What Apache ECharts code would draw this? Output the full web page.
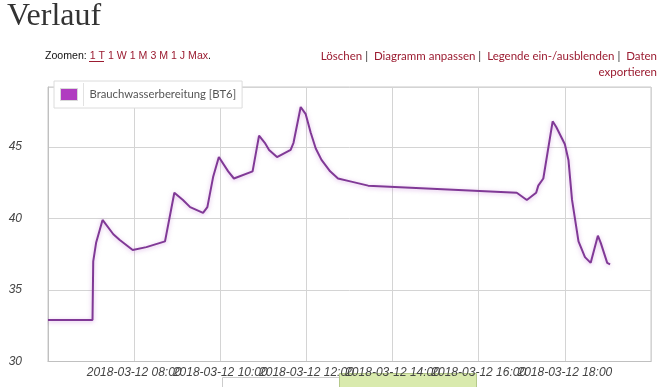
<!DOCTYPE html>
<html><head><meta charset="utf-8">
<script src="https://cdn.jsdelivr.net/npm/echarts@6/dist/echarts.min.js"></script>
<style>html,body{margin:0;padding:0;background:#fff}#c{width:664px;height:387px}</style>
</head><body><div id="c"></div>
<script>
const seriesName = 'Brauchwasserbereitung [BT6]';
const day = [2018, 2, 12];
const times = ['06:00','07:02','07:03','07:07','07:16','07:31','07:40','07:58','08:17','08:43','08:56','09:08','09:18','09:36','09:42','09:50','09:58','10:11','10:19','10:45','10:54','11:02','11:08','11:19','11:38','11:42','11:52','11:59','12:06','12:13','12:21','12:33','12:44','13:01','13:26','16:53','17:07','17:20','17:23','17:30','17:43','17:48','17:56','18:00','18:05','18:10','18:19','18:28','18:36','18:46','18:50','18:59','19:03'];
const values = [32.9,32.9,37.0,38.3,39.9,38.9,38.5,37.8,38.0,38.4,41.8,41.3,40.8,40.4,40.8,42.9,44.3,43.3,42.8,43.3,45.8,45.3,44.8,44.3,44.8,45.3,47.8,47.3,46.0,44.9,44.1,43.3,42.8,42.6,42.3,41.8,41.3,41.8,42.3,42.8,46.8,46.4,45.6,45.2,44.1,41.3,38.4,37.3,36.9,38.8,38.3,36.9,36.8];
const yTicks = [30, 35, 40, 45];
const axisStart = '06:00', axisEnd = '20:00';

function ts(hm){ const [h,m] = hm.split(':').map(Number); return Date.UTC(day[0], day[1], day[2], h, m); }
function pad(n){ return (n<10?'0':'')+n; }
const data = times.map((t,i)=>[ts(t), values[i]]);

const chart = echarts.init(document.getElementById('c'), null, {renderer:'canvas'});
const red = '#9b1c31';
const option = {
  animation:false,
  backgroundColor:'#fff',
  grid:{left:48, right:13, top:87, bottom:25.5, show:true, borderColor:'#c8c8c8', borderWidth:1},
  xAxis:{type:'value', min:ts(axisStart), max:ts(axisEnd), interval:7200000,
    axisLine:{show:true, lineStyle:{color:'#c0c0c0'}}, axisTick:{show:false},
    splitLine:{show:true, lineStyle:{color:'#d4d4d4'}},
    axisLabel:{showMinLabel:false, showMaxLabel:false, margin:5, fontStyle:'italic', fontFamily:'Liberation Sans', fontSize:12, color:'#444',
      formatter:v=>{const d=new Date(v); return d.getUTCFullYear()+'-'+pad(d.getUTCMonth()+1)+'-'+pad(d.getUTCDate())+' '+pad(d.getUTCHours())+':'+pad(d.getUTCMinutes());}}},
  yAxis:{type:'value', min:30, max:49.2, interval:5,
    axisLine:{show:true, lineStyle:{color:'#c0c0c0'}}, axisTick:{show:false},
    splitLine:{show:true, lineStyle:{color:'#d4d4d4'}},
    axisLabel:{showMaxLabel:false, margin:26, fontStyle:'italic', fontFamily:'Liberation Sans', fontSize:12, color:'#444',
      formatter:v=> yTicks.includes(v) ? String(v) : ''}},
  legend:{left:54, top:81, backgroundColor:'#fff', borderColor:'#dcdcdc', borderWidth:1, padding:[7,6,7,6],
    itemWidth:17, itemHeight:12, icon:'rect', itemStyle:{color:'#b03cc0', borderColor:'#d8d8d8', borderWidth:1},
    textStyle:{fontFamily:'Lato', fontSize:11.3, color:'#555', padding:[0,0,0,7]}, data:[seriesName]},
  series:[{name:seriesName, type:'line', data:data, showSymbol:false, smooth:false,
    itemStyle:{color:'#b03cc0'},
    lineStyle:{color:'#803996', width:2, shadowColor:'rgba(190,110,210,0.5)', shadowBlur:4, shadowOffsetY:1}}],
  graphic:[
    {type:'text', left:7, top:1, style:{text:'Verlauf', fontFamily:'Liberation Serif', fontSize:32, fill:'#333'}},
    {type:'text', left:45, top:51, style:{text:'{a|Zoomen: }{r|1 T 1 W 1 M 3 M 1 J Max}{a|.}', fontSize:10.6, fontFamily:'Liberation Sans',
      rich:{a:{fill:'#111', fontSize:10.6, fontFamily:'Liberation Sans'}, r:{fill:red, fontSize:10.6, fontFamily:'Liberation Sans'}}}},
    {type:'line', shape:{x1:89, y1:61.5, x2:104, y2:61.5}, style:{stroke:red, lineWidth:1}},
    {type:'text', right:7, top:50, style:{text:'{r|Löschen}{s| |  }{r|Diagramm anpassen}{s| |  }{r|Legende ein-/ausblenden}{s| |  }{r|Daten}',
      rich:{r:{fill:red, fontSize:11.5, fontFamily:'Lato'}, s:{fill:'#333', fontSize:11.5, fontFamily:'Lato'}}}},
    {type:'text', right:7, top:66, style:{text:'exportieren', fill:red, fontSize:11.5, fontFamily:'Lato'}},
    {type:'line', z:100, shape:{x1:83.5, y1:83, x2:83.5, y2:106}, style:{stroke:'#e2e2e2', lineWidth:1}},
    {type:'rect', shape:{x:222.5, y:377.5, width:254, height:20}, style:{fill:'#fff', stroke:'#ccc', lineWidth:1}},
    {type:'rect', shape:{x:339.5, y:373.5, width:137, height:20}, style:{fill:'#d9eaad', stroke:'#b5c98a', lineWidth:1}}
  ]
};
chart.setOption(option);
</script></body></html>
